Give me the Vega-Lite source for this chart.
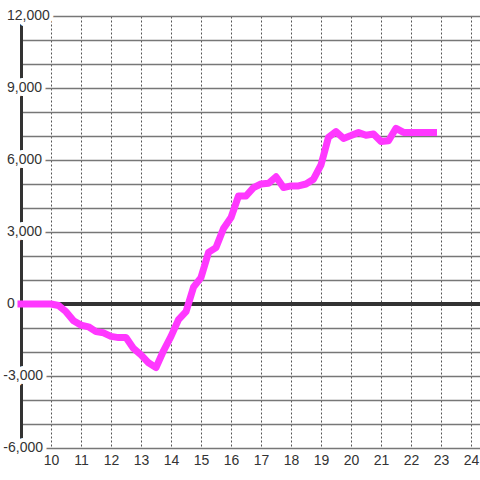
{
  "$schema": "https://vega.github.io/schema/vega-lite/v6.json",
  "width": 459,
  "height": 432,
  "autosize": {"type": "none"},
  "padding": {"left": 21, "top": 16, "right": 0, "bottom": 32},
  "background": "white",
  "config": {
    "view": {"stroke": null},
    "font": "Liberation Sans",
    "axisX": {
      "grid": true, "gridDash": [2, 2], "gridColor": "#555555", "gridWidth": 1,
      "domain": false, "ticks": false, "labelPadding": 5, "labelFontSize": 14,
      "labelColor": "#333333", "labelFont": "Liberation Sans", "labelFlush": false, "labelOverlap": false
    },
    "axisY": {
      "grid": true, "gridColor": "#777777", "gridWidth": 1.5,
      "labels": false, "ticks": false,
      "domain": true, "domainColor": "#333333", "domainWidth": 3
    }
  },
  "datasets": {
    "pnl": [
      {"t": 9.0, "v": 0}, {"t": 10.0, "v": 0}, {"t": 10.25, "v": -60}, {"t": 10.5, "v": -320},
      {"t": 10.75, "v": -700}, {"t": 11.0, "v": -880}, {"t": 11.25, "v": -950}, {"t": 11.5, "v": -1150},
      {"t": 11.75, "v": -1200}, {"t": 12.0, "v": -1350}, {"t": 12.25, "v": -1400}, {"t": 12.5, "v": -1400},
      {"t": 12.75, "v": -1850}, {"t": 13.0, "v": -2120}, {"t": 13.25, "v": -2450}, {"t": 13.5, "v": -2650},
      {"t": 13.75, "v": -1950}, {"t": 14.0, "v": -1350}, {"t": 14.25, "v": -650}, {"t": 14.5, "v": -320},
      {"t": 14.75, "v": 700}, {"t": 15.0, "v": 1100}, {"t": 15.25, "v": 2150}, {"t": 15.5, "v": 2350},
      {"t": 15.75, "v": 3150}, {"t": 16.0, "v": 3600}, {"t": 16.25, "v": 4500}, {"t": 16.5, "v": 4500},
      {"t": 16.75, "v": 4850}, {"t": 17.0, "v": 5000}, {"t": 17.25, "v": 5030}, {"t": 17.5, "v": 5300},
      {"t": 17.75, "v": 4850}, {"t": 18.0, "v": 4920}, {"t": 18.25, "v": 4920}, {"t": 18.5, "v": 5000},
      {"t": 18.75, "v": 5200}, {"t": 19.0, "v": 5800}, {"t": 19.25, "v": 6950}, {"t": 19.5, "v": 7180},
      {"t": 19.75, "v": 6900}, {"t": 20.0, "v": 7020}, {"t": 20.25, "v": 7150}, {"t": 20.5, "v": 7030},
      {"t": 20.75, "v": 7080}, {"t": 21.0, "v": 6770}, {"t": 21.25, "v": 6800}, {"t": 21.5, "v": 7320},
      {"t": 21.75, "v": 7150}, {"t": 22.0, "v": 7150}, {"t": 22.25, "v": 7150}, {"t": 22.5, "v": 7150},
      {"t": 22.75, "v": 7150}
    ],
    "ylabels": [
      {"v": 12000, "label": "12,000"}, {"v": 9000, "label": "9,000"}, {"v": 6000, "label": "6,000"},
      {"v": 3000, "label": "3,000"}, {"v": 0, "label": "0"}, {"v": -3000, "label": "-3,000"},
      {"v": -6000, "label": "-6,000"}
    ]
  },
  "layer": [
    {
      "data": {"name": "pnl"},
      "mark": {"type": "line", "color": "#ff38ff", "strokeWidth": 7, "opacity": 0},
      "encoding": {
        "x": {"field": "t", "type": "quantitative", "title": null,
          "scale": {"domain": [9, 24.3], "nice": false, "zero": false},
          "axis": {"values": [10, 11, 12, 13, 14, 15, 16, 17, 18, 19, 20, 21, 22, 23, 24]}},
        "y": {"field": "v", "type": "quantitative", "title": null,
          "scale": {"domain": [-6000, 12000], "nice": false, "zero": false},
          "axis": {"values": [-6000, -5000, -4000, -3000, -2000, -1000, 0, 1000, 2000, 3000, 4000, 5000, 6000, 7000, 8000, 9000, 10000, 11000, 12000]}}
      }
    },
    {
      "data": {"name": "pnl"},
      "mark": {"type": "rule", "color": "#333333", "strokeWidth": 3},
      "encoding": {"y": {"datum": 0, "type": "quantitative", "title": null,
        "axis": {"values": [-6000, -5000, -4000, -3000, -2000, -1000, 0, 1000, 2000, 3000, 4000, 5000, 6000, 7000, 8000, 9000, 10000, 11000, 12000]}}}
    },
    {
      "data": {"name": "ylabels"},
      "transform": [{"filter": "datum.v >= 0"}],
      "mark": {"type": "text", "align": "left", "baseline": "middle", "dx": -14, "fontSize": 14, "fill": "white", "stroke": "white", "strokeWidth": 8, "strokeJoin": "round"},
      "encoding": {
        "x": {"datum": 9, "type": "quantitative", "title": null,
          "axis": {"values": [10, 11, 12, 13, 14, 15, 16, 17, 18, 19, 20, 21, 22, 23, 24]}},
        "y": {"field": "v", "type": "quantitative", "title": null,
          "axis": {"values": [-6000, -5000, -4000, -3000, -2000, -1000, 0, 1000, 2000, 3000, 4000, 5000, 6000, 7000, 8000, 9000, 10000, 11000, 12000]}},
        "text": {"field": "label"}
      }
    },
    {
      "data": {"name": "ylabels"},
      "transform": [{"filter": "datum.v < 0"}],
      "mark": {"type": "text", "align": "right", "baseline": "middle", "dx": 22, "fontSize": 14, "fill": "white", "stroke": "white", "strokeWidth": 8, "strokeJoin": "round"},
      "encoding": {
        "x": {"datum": 9, "type": "quantitative", "title": null,
          "axis": {"values": [10, 11, 12, 13, 14, 15, 16, 17, 18, 19, 20, 21, 22, 23, 24]}},
        "y": {"field": "v", "type": "quantitative", "title": null,
          "axis": {"values": [-6000, -5000, -4000, -3000, -2000, -1000, 0, 1000, 2000, 3000, 4000, 5000, 6000, 7000, 8000, 9000, 10000, 11000, 12000]}},
        "text": {"field": "label"}
      }
    },
    {
      "data": {"name": "ylabels"},
      "transform": [{"filter": "datum.v >= 0"}],
      "mark": {"type": "text", "align": "left", "baseline": "middle", "dx": -14, "fontSize": 14, "fill": "#333333"},
      "encoding": {
        "x": {"datum": 9, "type": "quantitative", "title": null,
          "axis": {"values": [10, 11, 12, 13, 14, 15, 16, 17, 18, 19, 20, 21, 22, 23, 24]}},
        "y": {"field": "v", "type": "quantitative", "title": null,
          "axis": {"values": [-6000, -5000, -4000, -3000, -2000, -1000, 0, 1000, 2000, 3000, 4000, 5000, 6000, 7000, 8000, 9000, 10000, 11000, 12000]}},
        "text": {"field": "label"}
      }
    },
    {
      "data": {"name": "ylabels"},
      "transform": [{"filter": "datum.v < 0"}],
      "mark": {"type": "text", "align": "right", "baseline": "middle", "dx": 22, "fontSize": 14, "fill": "#333333"},
      "encoding": {
        "x": {"datum": 9, "type": "quantitative", "title": null,
          "axis": {"values": [10, 11, 12, 13, 14, 15, 16, 17, 18, 19, 20, 21, 22, 23, 24]}},
        "y": {"field": "v", "type": "quantitative", "title": null,
          "axis": {"values": [-6000, -5000, -4000, -3000, -2000, -1000, 0, 1000, 2000, 3000, 4000, 5000, 6000, 7000, 8000, 9000, 10000, 11000, 12000]}},
        "text": {"field": "label"}
      }
    },
    {
      "data": {"name": "pnl"},
      "mark": {"type": "line", "color": "#ff38ff", "strokeWidth": 7, "strokeCap": "square", "strokeJoin": "round"},
      "encoding": {
        "x": {"field": "t", "type": "quantitative", "title": null,
          "axis": {"values": [10, 11, 12, 13, 14, 15, 16, 17, 18, 19, 20, 21, 22, 23, 24]}},
        "y": {"field": "v", "type": "quantitative", "title": null,
          "axis": {"values": [-6000, -5000, -4000, -3000, -2000, -1000, 0, 1000, 2000, 3000, 4000, 5000, 6000, 7000, 8000, 9000, 10000, 11000, 12000]}}
      }
    }
  ]
}
